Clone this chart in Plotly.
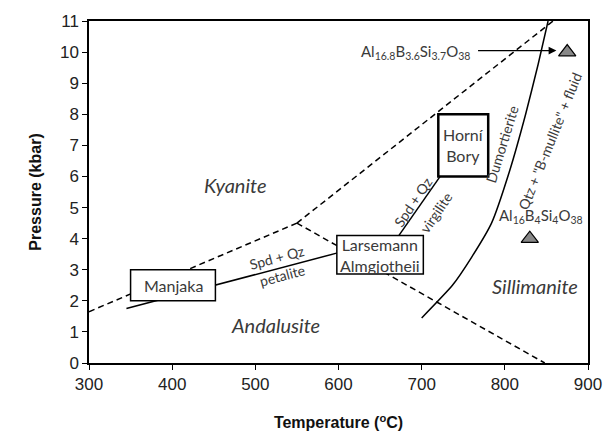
import plotly.graph_objects as go

# Phase boundaries (Temperature in °C, Pressure in kbar)
ky_and_T = [300, 550]
ky_and_P = [1.65, 4.5]
ky_sil_T = [550, 858]
ky_sil_P = [4.5, 11.0]
and_sil_T = [550, 848]
and_sil_P = [4.5, 0.0]
petalite_T = [345, 600]
petalite_P = [1.75, 3.55]
virgilite_T = [657, 730]
virgilite_P = [3.5, 6.3]
dum_T = [700, 737, 760, 784, 806, 825, 840, 852]
dum_P = [1.45, 2.5, 3.4, 4.5, 6.2, 8.0, 9.6, 11.0]

# Synthetic phases (triangles)
tri_T = [875, 830]
tri_P = [10.0, 4.0]

# Locality boxes: name, T range, P range
box_names = ["Manjaka", "Larsemann<br>Almgjotheii", "Horní<br>Bory"]
box_T = [(350, 452), (598, 702), (720, 780)]
box_P = [(2.0, 3.0), (2.86, 4.1), (6.0, 8.0)]
box_width = [1.5, 1.5, 2.5]

x_ticks = [300, 400, 500, 600, 700, 800, 900]
y_ticks = list(range(0, 12))

TXT = "#3a3a3a"
FONT = "Lato"

fig = go.Figure()
dash_line = dict(color="black", width=1.5, dash="6px,4px")
solid_line = dict(color="black", width=1.5)
for T, P, ln in [(ky_and_T, ky_and_P, dash_line), (ky_sil_T, ky_sil_P, dash_line),
                 (and_sil_T, and_sil_P, dash_line), (petalite_T, petalite_P, solid_line),
                 (virgilite_T, virgilite_P, solid_line)]:
    fig.add_trace(go.Scatter(x=T, y=P, mode="lines", line=ln, hoverinfo="skip", showlegend=False))
fig.add_trace(go.Scatter(x=dum_T, y=dum_P, mode="lines",
                         line=dict(color="black", width=1.5, shape="spline", smoothing=0.5),
                         showlegend=False))
fig.add_trace(go.Scatter(x=tri_T, y=tri_P, mode="markers",
                         marker=dict(symbol="triangle-up", size=15, color="#888888",
                                     line=dict(color="black", width=1.2)),
                         showlegend=False))

for name, (t0, t1), (p0, p1), w in zip(box_names, box_T, box_P, box_width):
    fig.add_shape(type="rect", x0=t0, x1=t1, y0=p0, y1=p1, xref="x", yref="y",
                  line=dict(color="black", width=w), fillcolor="white", layer="above")
    fig.add_annotation(x=(t0 + t1) / 2, y=(p0 + p1) / 2, text=name, showarrow=False,
                       font=dict(family=FONT, size=16, color=TXT))

def label(x, y, text, size=15, angle=0, italic=False):
    fig.add_annotation(x=x, y=y, text=f"<i>{text}</i>" if italic else text, showarrow=False,
                       textangle=angle, font=dict(family=FONT, size=size, color=TXT))

label(476, 5.72, "Kyanite", 20, italic=True)
label(524, 1.21, "Andalusite", 20, italic=True)
label(836, 2.49, "Sillimanite", 20, italic=True)
label(526, 3.38, "Spd + Qz", 14, -15)
label(532, 2.83, "petalite", 14, -15)
label(689, 5.17, "Spd + Qz", 14, -56)
label(717, 4.85, "virgilite", 14, -56)
label(797, 7.05, "Dumortierite", 14, -73)
label(854, 7.12, "Qtz + \"B-mullite\" + fluid", 14, -68)
label(844, 4.72, "Al<sub>16</sub>B<sub>4</sub>Si<sub>4</sub>O<sub>38</sub>", 15)
label(692, 10.0, "Al<sub>16.8</sub>B<sub>3.6</sub>Si<sub>3.7</sub>O<sub>38</sub>", 15)
fig.add_annotation(x=862, y=10.05, ax=766, ay=10.05, xref="x", yref="y", axref="x", ayref="y",
                   text="", showarrow=True, arrowhead=2, arrowsize=1.2, arrowwidth=1.3,
                   arrowcolor="black")

axis_common = dict(showline=True, linecolor="black", linewidth=1.5, mirror=True,
                   ticks="outside", ticklen=5, tickwidth=1.3, tickcolor="black",
                   showgrid=False, zeroline=False,
                   tickfont=dict(family="Liberation Sans", size=17, color="#222"))
fig.update_xaxes(range=[300, 900], tickvals=x_ticks,
                 title=dict(text="<b>Temperature (<sup>o</sup>C)</b>",
                            font=dict(family="Liberation Sans", size=16, color="#111"), standoff=24),
                 **axis_common)
fig.update_yaxes(range=[0, 11], tickvals=y_ticks,
                 title=dict(text="<b>Pressure (kbar)</b>",
                            font=dict(family="Liberation Sans", size=16, color="#111"), standoff=14),
                 **axis_common)
fig.update_layout(width=615, height=441, margin=dict(l=89, r=27, t=13, b=74),
                  plot_bgcolor="white", paper_bgcolor="white", showlegend=False)
fig.write_html("out.html")
